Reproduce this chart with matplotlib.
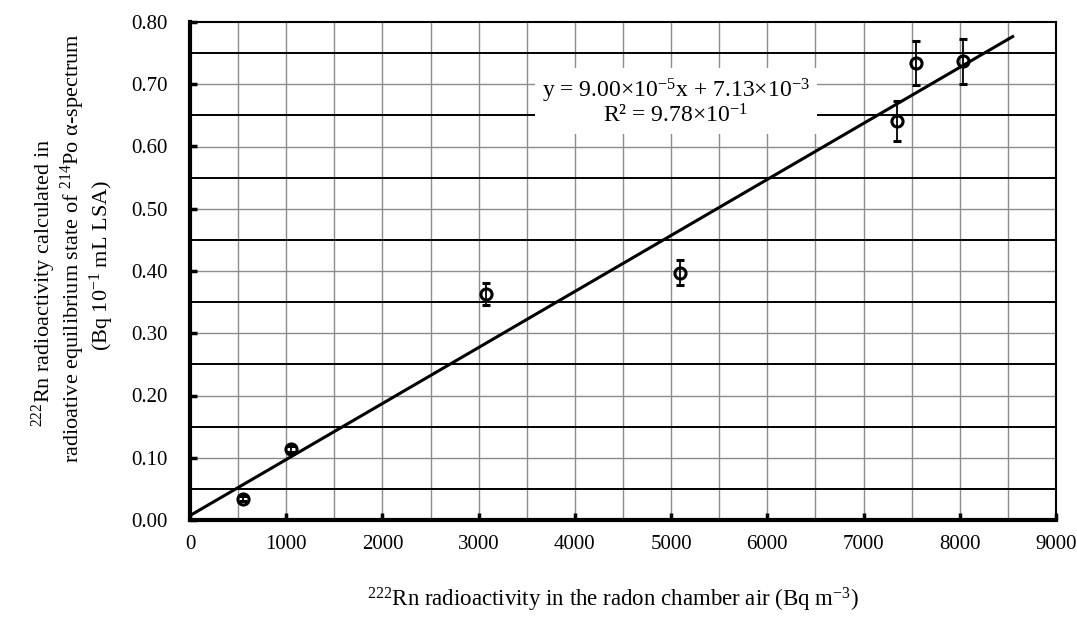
import matplotlib.pyplot as plt
import numpy as np

plt.rcParams['font.family'] = ['Liberation Serif', 'DejaVu Serif']
plt.rcParams['mathtext.fontset'] = 'custom'
plt.rcParams['mathtext.rm'] = 'Liberation Serif'
plt.rcParams['mathtext.it'] = 'Liberation Serif:italic'

# data
chamber = [550, 1050, 3077, 5094, 7350, 7547, 8035]
activity = [0.034, 0.114, 0.363, 0.397, 0.641, 0.734, 0.737]
err = [0.004, 0.005, 0.018, 0.020, 0.032, 0.035, 0.036]

slope = 9.00e-5
intercept = 7.13e-3
fit_x = [0, 8550]

fig = plt.figure(figsize=(10.77, 6.32), dpi=100)
ax = fig.add_axes([190 / 1077, 112 / 632, 866 / 1077, 498 / 632])

# grid: gray at ticks, black at the half steps
for xv in np.arange(500, 9000, 500):
    ax.axvline(xv, color='#8c8c8c', lw=1.0, zorder=1)
for yv in np.arange(0.1, 0.8, 0.1):
    ax.axhline(yv, color='#8c8c8c', lw=1.0, zorder=1)
for yv in np.arange(0.05, 0.8, 0.1):
    ax.axhline(yv, color='black', lw=1.4, zorder=1)

fx = np.array(fit_x)
ax.plot(fx, slope * fx + intercept, color='black', lw=2.2, zorder=3)

ax.errorbar(chamber, activity, yerr=err, fmt='o', mfc='none', mec='black',
            mew=2.2, ms=8, ecolor='black', elinewidth=1.3, capsize=2.8,
            capthick=1.3, zorder=4)

ax.text(5050, 0.671,
        'y = 9.00×10$^{-5}$x + 7.13×10$^{-3}$\nR² = 9.78×10$^{-1}$',
        ha='center', va='center', fontsize=17, linespacing=0.95,
        bbox=dict(facecolor='white', edgecolor='none', pad=5), zorder=5)

ax.set_xlim(0, 9000)
ax.set_ylim(0, 0.8)
ax.set_xticks(np.arange(0, 9001, 1000))
ax.set_yticks(np.arange(0, 0.81, 0.1))
ax.set_yticklabels(['%.2f' % v for v in np.arange(0, 0.81, 0.1)])
ax.tick_params(direction='in', length=5, width=2.5, labelsize=15)
ax.tick_params(axis='y', pad=16)
ax.tick_params(axis='x', pad=11)

for s in ['left', 'bottom']:
    ax.spines[s].set_linewidth(3)
for s in ['top', 'right']:
    ax.spines[s].set_linewidth(1.5)

ylab_lines = ['$^{222}$Rn radioactivity calculated in',
              'radioative equilibrium state of $^{214}$Po α-spectrum',
              '(Bq 10$^{-1}$ mL LSA)']
ylab_x = [44, 73, 102]
ylab_y = [283, 248, 266]
for t, px, py in zip(ylab_lines, ylab_x, ylab_y):
    fig.text(px / 1077, 1 - py / 632, t, rotation=90, ha='center',
             va='center', fontsize=16)

fig.text(613 / 1077, 1 - 600 / 632,
         '$^{222}$Rn radioactivity in the radon chamber air (Bq m$^{-3}$)',
         ha='center', va='center', fontsize=16.5)

fig.savefig('out.png', dpi=100)
